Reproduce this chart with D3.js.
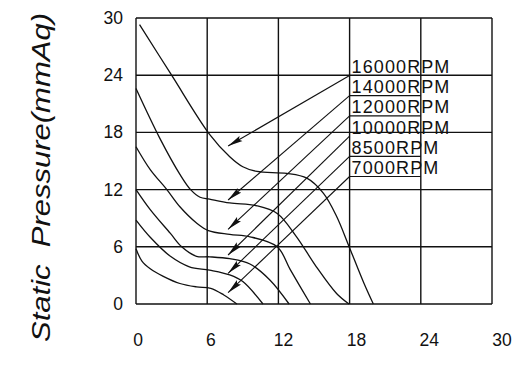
<!DOCTYPE html>
<html lang="en">
<head>
  <meta charset="UTF-8">
  <title>Static Pressure</title>
  <script src="https://d3js.org/d3.v7.min.js"></script>
  <style>
    body {
      margin: 0;
      background: #fff;
    }

    svg {
      display: block;
      font-family: "Liberation Sans", Arial, sans-serif;
    }
  </style>
</head>
<body>
  <svg width="525" height="369"></svg>
  <script>
    // axis ticks
    const xTicks = [0, 6, 12, 18, 24, 30];
    const yTicks = [0, 6, 12, 18, 24, 30];

    // fan speeds (legend order, top to bottom)
    const speeds = ["16000RPM", "14000RPM", "12000RPM", "10000RPM", "8500RPM", "7000RPM"];

    // curves: [flow, pressure]
    const rpm16000 = [[0.3, 29.3], [3, 24], [6.2, 17.8], [7.9, 15.45], [9.0, 14.4], [10.2, 13.9], [12.7, 13.7],
      [14.4, 13.2], [15.8, 11.6], [16.9, 9.2], [17.9, 6.2], [19.2, 2.2], [20, 0]];
    const rpm14000 = [[0, 22.6], [2, 17.4], [3.7, 13.6], [4.6, 12], [5.4, 11.2], [6.2, 11.0], [7.9, 10.6],
      [10.2, 10.3], [11.9, 9.5], [13.5, 7.1], [15.2, 3.9], [16.9, 1.1], [17.95, 0]];
    const rpm12000 = [[0, 16.5], [1.2, 14.1], [2.6, 12], [3.7, 10.2], [5.1, 8.5], [6.1, 7.7], [7.9, 7.3],
      [9.6, 7.05], [11.9, 6.0], [13.0, 3.6], [14.7, 0]];
    const rpm10000 = [[0, 12], [1.2, 9.9], [2.9, 7.4], [3.85, 6.0], [5.1, 5.0], [6.2, 4.95], [7.9, 4.75],
      [9.6, 4.2], [11.3, 2.5], [12.9, 0]];
    const rpm8500 = [[0, 8.8], [1.2, 7.0], [2.9, 5.0], [4.5, 3.9], [6.2, 3.55], [7.9, 3.05], [9.0, 2.35], [10.7, 0]];
    const rpm7000 = [[0, 5.8], [0.5, 4.5], [1.2, 3.7], [2.3, 2.9], [3.7, 2.15], [5.1, 1.8], [6.3, 1.65],
      [7.4, 0.95], [8.5, 0]];

    // where each legend arrow points: [flow, pressure]
    const arrowTips = [[7.76, 16.57], [7.76, 10.91], [7.76, 7.83], [7.76, 5.14], [7.76, 3.22], [7.76, 1.19]];

    const curves = [rpm16000, rpm14000, rpm12000, rpm10000, rpm8500, rpm7000];

    const svg = d3.select("svg");
    const ink = "#111";

    const x = d3.scaleLinear().domain([0, 30]).range([136, 492]);
    const y = d3.scaleLinear().domain([0, 30]).range([304, 18]);
    // tick labels in the original drift a little right of the grid
    const xLabel = d3.scaleLinear().domain([0, 30]).range([138, 502]);

    // grid
    svg.append("g")
      .selectAll("line.v")
      .data(xTicks)
      .join("line")
      .attr("x1", d => x(d)).attr("x2", d => x(d))
      .attr("y1", y(0)).attr("y2", y(30))
      .attr("stroke", ink).attr("stroke-width", 1.4);

    svg.append("g")
      .selectAll("line.h")
      .data(yTicks)
      .join("line")
      .attr("x1", x(0)).attr("x2", x(30))
      .attr("y1", d => y(d)).attr("y2", d => y(d))
      .attr("stroke", ink).attr("stroke-width", 1.4);

    // tick labels
    svg.append("g")
      .selectAll("text")
      .data(yTicks)
      .join("text")
      .attr("x", 123)
      .attr("y", d => y(d) + 6)
      .attr("text-anchor", "end")
      .attr("font-size", 17.5)
      .attr("fill", ink)
      .text(d => d);

    svg.append("g")
      .selectAll("text")
      .data(xTicks)
      .join("text")
      .attr("x", d => xLabel(d))
      .attr("y", 346)
      .attr("text-anchor", "middle")
      .attr("font-size", 17.5)
      .attr("fill", ink)
      .text(d => d);

    // y title
    svg.append("text")
      .attr("transform", "translate(50,342) rotate(-90)")
      .attr("font-size", 26)
      .attr("font-style", "italic")
      .attr("fill", ink)
      .attr("textLength", 329)
      .attr("lengthAdjust", "spacingAndGlyphs")
      .style("white-space", "pre")
      .text("Static  Pressure(mmAq)");

    // curves
    const line = d3.line()
      .x(d => x(d[0]))
      .y(d => y(d[1]))
      .curve(d3.curveCatmullRom.alpha(0.5));

    svg.append("g")
      .selectAll("path")
      .data(curves)
      .join("path")
      .attr("d", line)
      .attr("fill", "none")
      .attr("stroke", ink)
      .attr("stroke-width", 1.3);

    // legend rows sit between the 18 and 24 gridlines
    const rowBase = i => y(24) - 2.2 + i * 20.2;
    const rowLine = i => rowBase(i) + 2.5;

    svg.append("defs").append("marker")
      .attr("id", "head")
      .attr("markerUnits", "userSpaceOnUse")
      .attr("viewBox", "0 0 15 7")
      .attr("markerWidth", 15)
      .attr("markerHeight", 7)
      .attr("refX", 15)
      .attr("refY", 3.5)
      .attr("orient", "auto")
      .append("path")
      .attr("d", "M0,0.5 L15,3.5 L0,6.5 L2.5,3.5 Z")
      .attr("fill", ink);

    const legend = svg.append("g");

    legend.selectAll("line")
      .data(speeds)
      .join("line")
      .attr("x1", x(18)).attr("x2", x(24))
      .attr("y1", (d, i) => rowLine(i)).attr("y2", (d, i) => rowLine(i))
      // rows that land on a gridline don't need their own underline
      .attr("display", (d, i) => yTicks.some(t => Math.abs(y(t) - rowLine(i)) < 4.5) ? "none" : null)
      .attr("stroke", ink).attr("stroke-width", 1.2);

    legend.selectAll("text")
      .data(speeds)
      .join("text")
      .attr("x", x(18) + 2)
      .attr("y", (d, i) => rowBase(i))
      .attr("font-size", 18)
      .attr("letter-spacing", 1.1)
      .attr("fill", ink)
      .text(d => d);

    legend.selectAll("path")
      .data(arrowTips)
      .join("path")
      .attr("d", (d, i) => `M${x(18)},${rowLine(i)}L${x(d[0])},${y(d[1])}`)
      .attr("stroke", ink)
      .attr("stroke-width", 1.1)
      .attr("fill", "none")
      .attr("marker-end", "url(#head)");
  </script>
</body>
</html>
